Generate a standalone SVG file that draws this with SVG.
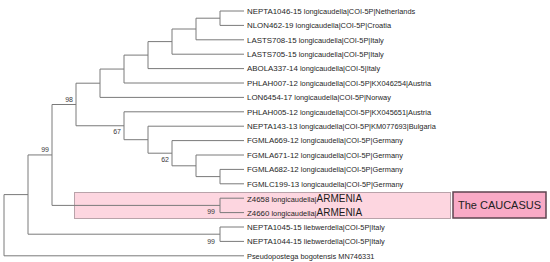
<svg xmlns="http://www.w3.org/2000/svg" width="550" height="262" viewBox="0 0 550 262">
<style>
.br{fill:none;stroke:#7a7a7a;stroke-width:1}
.lf{font-family:"Liberation Sans",Arial,sans-serif;fill:#262626;font-size:7.4px}
.id{font-size:7.9px}
.big{font-size:10px;fill:#1a1a1a}
.bs{font-family:"Liberation Sans",Arial,sans-serif;fill:#3a3a3a;font-size:7px;text-anchor:end}
</style>
<rect width="550" height="262" fill="#fff"/>
<g id="highlight">
<rect x="74.5" y="192.5" width="376" height="26" fill="#fdd6e0" stroke="#b9a3aa" stroke-width="1"/>
</g>
<g id="caucasus">
<rect x="453" y="192" width="93" height="26" fill="#f9aac6" stroke="#5e4450" stroke-width="1.5"/>
<text x="499.5" y="208.5" font-family="'Liberation Sans',Arial,sans-serif" font-size="11" fill="#222" text-anchor="middle">The CAUCASUS</text>
</g>
<g id="connectors" class="br">
<path class="br" d="M244,11 H220 V25.4 H244"/>
<path class="br" d="M220,18.2 H196 V39.8 H244"/>
<path class="br" d="M196,29 H172 V54.2 H244"/>
<path class="br" d="M172,41.6 H148 V68.6 H244"/>
<path class="br" d="M148,55.1 H124 V83 H244"/>
<path class="br" d="M124,69.05 H100 V97.4 H244"/>
<path class="br" d="M244,169.4 H220 V183.8 H244"/>
<path class="br" d="M244,155 H196 V176.6 H220"/>
<path class="br" d="M244,140.6 H172 V165.8 H196"/>
<path class="br" d="M244,126.2 H148 V153.2 H172"/>
<path class="br" d="M244,111.8 H124 V139.7 H148"/>
<path class="br" d="M100,83.2 H76 V125.75 H124"/>
<path class="br" d="M244,198.2 H220 V212.6 H244"/>
<path class="br" d="M76,104.5 H52 V205.4 H220"/>
<path class="br" d="M244,227 H220 V241.4 H244"/>
<path class="br" d="M52,154.95 H28 V234.2 H220"/>
<path class="br" d="M28,194.6 H4 V255.8 H244"/>
</g>
<g id="support">
<text class="bs" x="73" y="101.5">98</text>
<text class="bs" x="49" y="152">99</text>
<text class="bs" x="121" y="134">67</text>
<text class="bs" x="169" y="162">62</text>
<text class="bs" x="215" y="214">99</text>
<text class="bs" x="215" y="243.5">99</text>
</g>
<g id="leaf0"><text class="lf" x="247" y="13.8"><tspan class="id">NEPTA1046-15</tspan> longicaudella|COI-5P|Netherlands</text></g>
<g id="leaf1"><text class="lf" x="247" y="28.2"><tspan class="id">NLON462-19</tspan> longicaudella|COI-5P|Croatia</text></g>
<g id="leaf2"><text class="lf" x="247" y="42.6"><tspan class="id">LASTS708-15</tspan> longicaudella|COI-5P|Italy</text></g>
<g id="leaf3"><text class="lf" x="247" y="57"><tspan class="id">LASTS705-15</tspan> longicaudella|COI-5P|Italy</text></g>
<g id="leaf4"><text class="lf" x="247" y="71.4"><tspan class="id">ABOLA337-14</tspan> longicaudella|COI-5|Italy</text></g>
<g id="leaf5"><text class="lf" x="247" y="85.8"><tspan class="id">PHLAH007-12</tspan> longicaudella|COI-5P|KX046254|Austria</text></g>
<g id="leaf6"><text class="lf" x="247" y="100.2"><tspan class="id">LON6454-17</tspan> longicaudella|COI-5P|Norway</text></g>
<g id="leaf7"><text class="lf" x="247" y="114.6"><tspan class="id">PHLAH005-12</tspan> longicaudella|COI-5P|KX045651|Austria</text></g>
<g id="leaf8"><text class="lf" x="247" y="129"><tspan class="id">NEPTA143-13</tspan> longicaudella|COI-5P|KM077693|Bulgaria</text></g>
<g id="leaf9"><text class="lf" x="247" y="143.4"><tspan class="id">FGMLA669-12</tspan> longicaudella|COI-5P|Germany</text></g>
<g id="leaf10"><text class="lf" x="247" y="157.8"><tspan class="id">FGMLA671-12</tspan> longicaudella|COI-5P|Germany</text></g>
<g id="leaf11"><text class="lf" x="247" y="172.2"><tspan class="id">FGMLA682-12</tspan> longicaudella|COI-5P|Germany</text></g>
<g id="leaf12"><text class="lf" x="247" y="186.6"><tspan class="id">FGMLC199-13</tspan> longicaudella|COI-5P|Germany</text></g>
<g id="leaf13"><text class="lf" x="247" y="201.6"><tspan class="id">Z4658</tspan> longicaudella|<tspan class="big">ARMENIA</tspan></text></g>
<g id="leaf14"><text class="lf" x="247" y="216"><tspan class="id">Z4660</tspan> longicaudella|<tspan class="big">ARMENIA</tspan></text></g>
<g id="leaf15"><text class="lf" x="247" y="229.8"><tspan class="id">NEPTA1045-15</tspan> liebwerdella|COI-5P|Italy</text></g>
<g id="leaf16"><text class="lf" x="247" y="244.2"><tspan class="id">NEPTA1044-15</tspan> liebwerdella|COI-5P|Italy</text></g>
<g id="leaf17"><text class="lf" x="247" y="258.6" font-size="7.2">Pseudopostega bogotensis MN746331</text></g>
</svg>
